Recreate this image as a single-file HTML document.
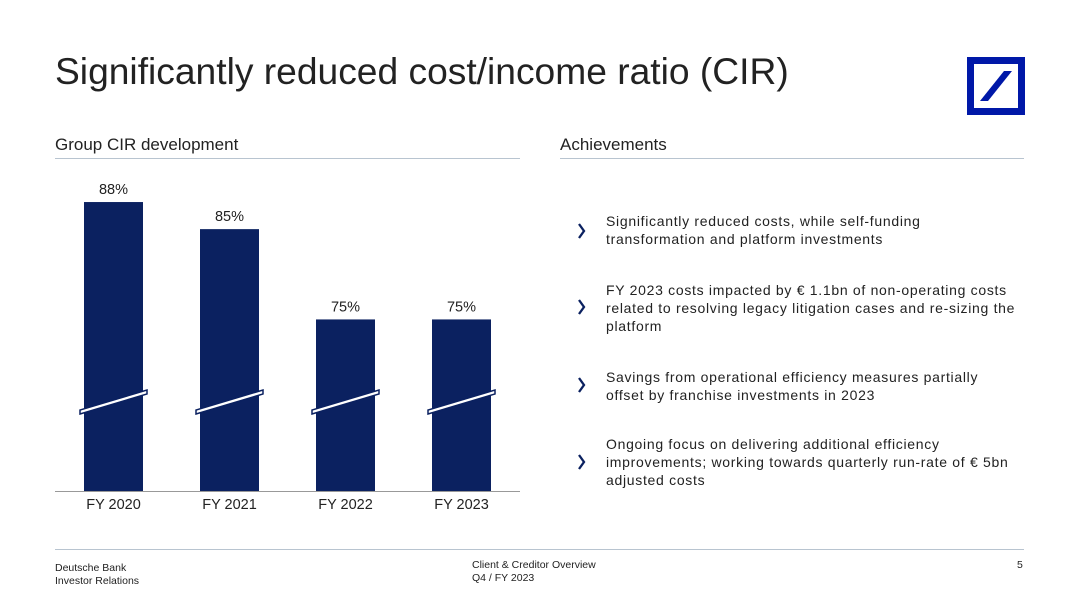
<!DOCTYPE html>
<html><head><meta charset="utf-8"><style>
body{margin:0;width:1080px;height:608px;background:#fff;font-family:"Liberation Sans",sans-serif;color:#1a1a1a;position:relative;overflow:hidden}
.a{position:absolute}
.h{font-size:17px;color:#222}
.ln{height:1px;background:#b8c4d0}
.b{font-size:14px;letter-spacing:0.7px;line-height:18px;left:606px;width:410px;color:#222}
.f{font-size:10.5px;line-height:13px;color:#222}
</style></head><body>
<div class="a" style="left:55px;top:50px;font-size:37.2px;color:#222">Significantly reduced cost/income ratio (CIR)</div>
<svg class="a" style="left:967px;top:57px" width="58" height="58"><rect x="3.5" y="3.5" width="51" height="51" fill="none" stroke="#0018a8" stroke-width="7"/><polygon points="13,44 21,44 45,14 37,14" fill="#0018a8"/></svg>
<div class="a h" style="left:55px;top:135px">Group CIR development</div>
<div class="a ln" style="left:55px;top:158px;width:465px"></div>
<div class="a h" style="left:560px;top:135px">Achievements</div>
<div class="a ln" style="left:560px;top:158px;width:464px"></div>
<svg class="a" id="chart" style="left:0;top:0" width="540" height="530"></svg>
<script>
const categories=["FY 2020","FY 2021","FY 2022","FY 2023"];
const values=[88,85,75,75];
const labels=["88%","85%","75%","75%"];
const svg=document.getElementById('chart'),NS="http://www.w3.org/2000/svg";
const base=491,scale=9.03,axisMin=56;
const y=v=>base-(v-axisMin)*scale;
const x=i=>84+i*116;
const bw=59;
function mk(t,a){const e=document.createElementNS(NS,t);for(const k in a)e.setAttribute(k,a[k]);svg.appendChild(e);return e;}
categories.forEach((c,i)=>{
 const r=mk('rect',{x:x(i),y:y(values[i]),width:bw,height:base-y(values[i]),fill:'#0b2160'});
 
 
 const x0=x(i)-4,x1=x(i)+bw+4,yc=404;
 const br=mk('polygon',{points:`${x0},${yc+10} ${x1},${yc-10} ${x1},${yc-14} ${x0},${yc+6}`,fill:'#fff',stroke:'#0b2160','stroke-width':1.5});
 
 
 const t=mk('text',{x:x(i)+bw/2,y:y(values[i])-8,'text-anchor':'middle','font-size':14.5,fill:'#222'});t.textContent=labels[i];
 
 
 const ct=mk('text',{x:x(i)+bw/2,y:509,'text-anchor':'middle','font-size':14.5,fill:'#222'});ct.textContent=c;
 
 
});
const ax=mk('line',{x1:55,x2:520,y1:base+0.5,y2:base+0.5,stroke:'#999','stroke-width':1});


</script>
<svg class="a" style="left:570px;top:200px" width="24" height="290">
<polyline points="9,24 14,31 9,38" fill="none" stroke="#0b2160" stroke-width="2.3"/>
<polyline points="9,100 14,107 9,114" fill="none" stroke="#0b2160" stroke-width="2.3"/>
<polyline points="9,178 14,185 9,192" fill="none" stroke="#0b2160" stroke-width="2.3"/>
<polyline points="9,255 14,262 9,269" fill="none" stroke="#0b2160" stroke-width="2.3"/>
</svg>
<div class="a b" style="top:212px">Significantly reduced costs, while self-funding transformation and platform investments</div>
<div class="a b" style="top:281px">FY 2023 costs impacted by € 1.1bn of non-operating costs related to resolving legacy litigation cases and re-sizing the platform</div>
<div class="a b" style="top:368px">Savings from operational efficiency measures partially offset by franchise investments in 2023</div>
<div class="a b" style="top:435px">Ongoing focus on delivering additional efficiency improvements; working towards quarterly run-rate of € 5bn adjusted costs</div>
<div class="a ln" style="left:55px;top:549px;width:969px;background:#b8c4d0"></div>
<div class="a f" style="left:55px;top:562px">Deutsche Bank<br>Investor Relations</div>
<div class="a f" style="left:472px;top:559px">Client &amp; Creditor Overview<br>Q4 / FY 2023</div>
<div class="a f" style="left:1017px;top:559px">5</div>
</body></html>
